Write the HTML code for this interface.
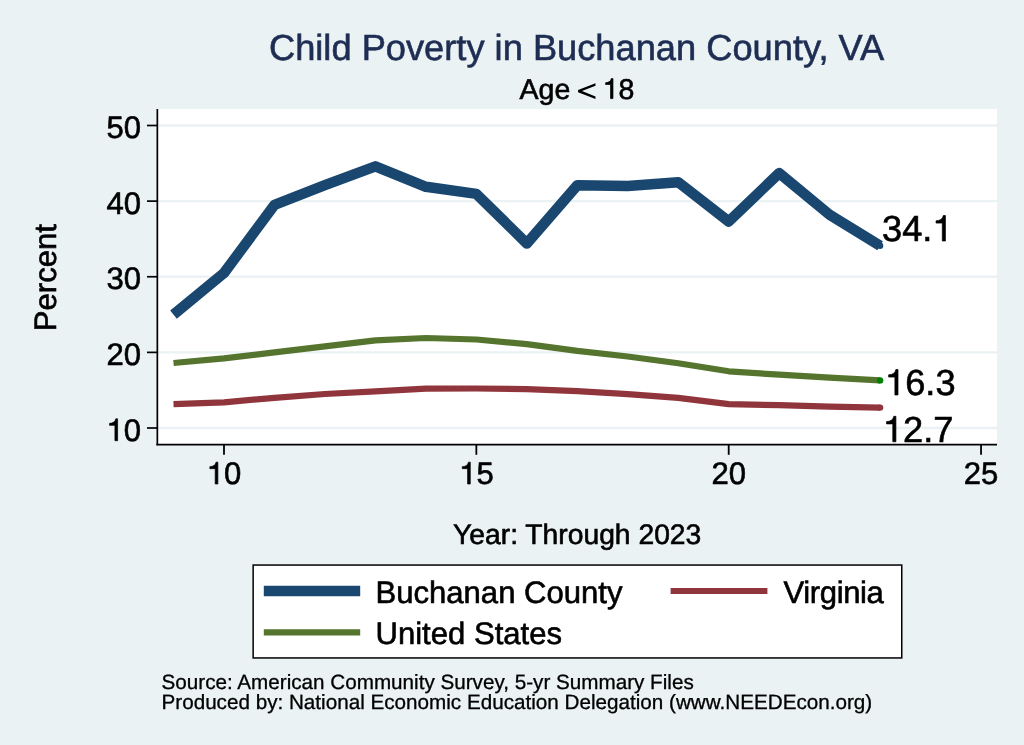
<!DOCTYPE html>
<html><head><meta charset="utf-8"><title>Child Poverty in Buchanan County, VA</title>
<style>
html,body{margin:0;padding:0;background:#eaf2f3;}
body{width:1024px;height:745px;overflow:hidden;}
svg{display:block;will-change:transform;}
text{font-family:"Liberation Sans",sans-serif;fill:#000;stroke:#000;stroke-width:0.6px;text-rendering:geometricPrecision;}
.one,.lt{fill:none;stroke:none;}
</style></head><body>
<svg width="1024" height="745" viewBox="0 0 1024 745">
<rect x="0" y="0" width="1024" height="745" fill="#eaf2f3"/>
<rect x="157" y="109" width="840" height="336" fill="#ffffff"/>
<line x1="158" x2="997" y1="428.00" y2="428.00" stroke="#eaf2f3" stroke-width="2.4"/><line x1="158" x2="997" y1="352.38" y2="352.38" stroke="#eaf2f3" stroke-width="2.4"/><line x1="158" x2="997" y1="276.75" y2="276.75" stroke="#eaf2f3" stroke-width="2.4"/><line x1="158" x2="997" y1="201.12" y2="201.12" stroke="#eaf2f3" stroke-width="2.4"/><line x1="158" x2="997" y1="125.50" y2="125.50" stroke="#eaf2f3" stroke-width="2.4"/>
<text x="576.6" y="60" text-anchor="middle" font-size="36.25" style="fill:#1e2d53;stroke:#1e2d53">Child Poverty in Buchanan County, VA</text>
<text x="577" y="98.6" text-anchor="middle" font-size="28.5">Age <tspan class="lt">&lt;</tspan> <tspan class="one">1</tspan>8</text>
<polyline points="173.5,363.0 224.0,358.4 274.5,352.4 324.9,346.3 375.4,340.3 425.9,338.0 476.4,339.5 526.8,344.1 577.3,350.9 627.8,356.5 678.2,363.3 728.7,371.3 779.2,374.7 829.6,377.7 880.1,380.4" fill="none" stroke="#55752f" stroke-width="6.2" stroke-linejoin="round"/>
<polyline points="173.5,404.2 224.0,402.3 274.5,397.8 324.9,394.0 375.4,391.3 425.9,388.7 476.4,388.5 526.8,389.2 577.3,391.1 627.8,394.1 678.2,397.8 728.7,404.2 779.2,405.2 829.6,406.6 880.1,407.6" fill="none" stroke="#90353b" stroke-width="6.2" stroke-linejoin="round"/>
<polyline points="173.5,314.6 224.0,273.0 274.5,204.9 324.9,185.2 375.4,166.3 425.9,186.8 476.4,193.9 526.8,243.5 577.3,185.2 627.8,186.0 678.2,182.2 728.7,221.5 779.2,173.1 829.6,214.7 880.1,245.7" fill="none" stroke="#1a476f" stroke-width="10.5" stroke-linejoin="round"/>
<circle cx="880.1" cy="245.7" r="3.2" fill="#1a476f"/>
<circle cx="880.1" cy="380.4" r="3.2" fill="#008000"/>
<circle cx="880.1" cy="407.6" r="3.2" fill="#90353b"/>
<text transform="translate(882,241) scale(1,1.0)" font-size="36.25">34.<tspan class="one">1</tspan></text>
<text transform="translate(885,395) scale(1,1.0)" font-size="36.25"><tspan class="one">1</tspan>6.3</text>
<text transform="translate(882.9,441.8) scale(1,1.0)" font-size="36.25"><tspan class="one">1</tspan>2.7</text>
<line x1="157.35" x2="157.35" y1="109" y2="445.2" stroke="#000" stroke-width="1.7"/>
<line x1="156.35" x2="997" y1="444.6" y2="444.6" stroke="#000" stroke-width="1.6"/>
<line x1="147" x2="157.2" y1="428.00" y2="428.00" stroke="#000" stroke-width="1.7"/><line x1="147" x2="157.2" y1="352.38" y2="352.38" stroke="#000" stroke-width="1.7"/><line x1="147" x2="157.2" y1="276.75" y2="276.75" stroke="#000" stroke-width="1.7"/><line x1="147" x2="157.2" y1="201.12" y2="201.12" stroke="#000" stroke-width="1.7"/><line x1="147" x2="157.2" y1="125.50" y2="125.50" stroke="#000" stroke-width="1.7"/><line x1="224.00" x2="224.00" y1="444.6" y2="454.8" stroke="#000" stroke-width="1.8"/><line x1="476.35" x2="476.35" y1="444.6" y2="454.8" stroke="#000" stroke-width="1.8"/><line x1="728.70" x2="728.70" y1="444.6" y2="454.8" stroke="#000" stroke-width="1.8"/><line x1="981.05" x2="981.05" y1="444.6" y2="454.8" stroke="#000" stroke-width="1.8"/><text transform="translate(141,440.7) scale(1,1.0)" text-anchor="end" font-size="31.07"><tspan class="one">1</tspan>0</text><text transform="translate(141,365.1) scale(1,1.0)" text-anchor="end" font-size="31.07">20</text><text transform="translate(141,289.4) scale(1,1.0)" text-anchor="end" font-size="31.07">30</text><text transform="translate(141,213.8) scale(1,1.0)" text-anchor="end" font-size="31.07">40</text><text transform="translate(141,138.2) scale(1,1.0)" text-anchor="end" font-size="31.07">50</text><text transform="translate(224.0,484) scale(1,1.0)" text-anchor="middle" font-size="31.07"><tspan class="one">1</tspan>0</text><text transform="translate(476.4,484) scale(1,1.0)" text-anchor="middle" font-size="31.07"><tspan class="one">1</tspan>5</text><text transform="translate(728.7,484) scale(1,1.0)" text-anchor="middle" font-size="31.07">20</text><text transform="translate(981.0,484) scale(1,1.0)" text-anchor="middle" font-size="31.07">25</text>
<text transform="translate(55.5,331.2) rotate(-90)" font-size="31.07">Percent</text>
<text x="577.2" y="543.7" text-anchor="middle" font-size="28.25">Year: Through 2023</text>
<rect x="253.15" y="565.05" width="648.6" height="92.9" fill="#fff" stroke="#000" stroke-width="1.5"/>
<line x1="263.8" x2="360.2" y1="591" y2="591" stroke="#1a476f" stroke-width="10.6"/>
<line x1="263.8" x2="360.2" y1="632.4" y2="632.4" stroke="#55752f" stroke-width="6.2"/>
<line x1="670.6" x2="767.4" y1="591" y2="591" stroke="#90353b" stroke-width="6.2"/>
<text x="375.5" y="602.7" font-size="31.07">Buchanan County</text>
<text x="375.5" y="644.3" font-size="31.07">United States</text>
<text x="783.5" y="602.7" font-size="31.07" style="letter-spacing:-0.38px">Virginia</text>
<text x="161.5" y="688.8" font-size="20.67" style="stroke-width:0.3px">Source: American Community Survey, 5-yr Summary Files</text>
<text x="161.5" y="708.6" font-size="20.67" style="stroke-width:0.3px">Produced by: National Economic Education Delegation (www.NEEDEcon.org)</text>
<path d="M595.47,83.20 L595.47,85.70 L581.97,91.12 L595.47,96.55 L595.47,99.05 L578.07,92.17 L578.07,90.07 Z" fill="#000"/>
<path d="M359,0 L273,0 L273,494 L101,494 L101,558 C205,560 284,606 300,703 L359,703 Z" transform="translate(602.75,98.60) scale(0.02850,-0.02850)" fill="#000" stroke="#000" stroke-width="24.6"/>
<path d="M359,0 L273,0 L273,494 L101,494 L101,558 C205,560 284,606 300,703 L359,703 Z" transform="translate(932.41,241.00) scale(0.03625,-0.03625)" fill="#000" stroke="#000" stroke-width="19.3"/>
<path d="M359,0 L273,0 L273,494 L101,494 L101,558 C205,560 284,606 300,703 L359,703 Z" transform="translate(885.00,395.00) scale(0.03625,-0.03625)" fill="#000" stroke="#000" stroke-width="19.3"/>
<path d="M359,0 L273,0 L273,494 L101,494 L101,558 C205,560 284,606 300,703 L359,703 Z" transform="translate(882.90,441.80) scale(0.03625,-0.03625)" fill="#000" stroke="#000" stroke-width="19.3"/>
<path d="M359,0 L273,0 L273,494 L101,494 L101,558 C205,560 284,606 300,703 L359,703 Z" transform="translate(106.44,440.70) scale(0.03107,-0.03107)" fill="#000" stroke="#000" stroke-width="22.5"/>
<path d="M359,0 L273,0 L273,494 L101,494 L101,558 C205,560 284,606 300,703 L359,703 Z" transform="translate(206.72,484.00) scale(0.03107,-0.03107)" fill="#000" stroke="#000" stroke-width="22.5"/>
<path d="M359,0 L273,0 L273,494 L101,494 L101,558 C205,560 284,606 300,703 L359,703 Z" transform="translate(459.12,484.00) scale(0.03107,-0.03107)" fill="#000" stroke="#000" stroke-width="22.5"/>
</svg>
</body></html>
